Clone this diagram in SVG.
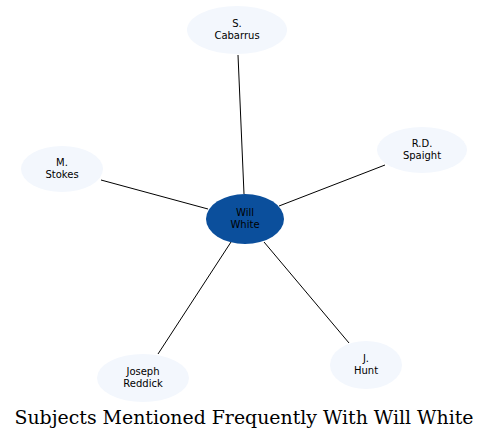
<svg xmlns="http://www.w3.org/2000/svg" width="489" height="439" viewBox="0 0 489 439">
<style>
.n{fill:#f3f7fd;stroke:none}
.c{fill:#0b4f9c;stroke:none}
.t{font-family:"DejaVu Sans",sans-serif;font-size:10px;fill:#000;text-anchor:middle}
.e{stroke:#000;stroke-width:1;fill:none}
.title{font-family:"DejaVu Serif",serif;font-size:18.9px;fill:#000;text-anchor:middle}
</style>
<rect width="489" height="439" fill="#fff"/>
<g id="edges">
<line class="e" x1="244" y1="194" x2="238" y2="55"/>
<line class="e" x1="279" y1="206" x2="385" y2="165"/>
<line class="e" x1="208" y1="209" x2="101" y2="180"/>
<line class="e" x1="231" y1="242" x2="158" y2="354"/>
<line class="e" x1="264" y1="242" x2="349" y2="343"/>
</g>
<g id="cabarrus"><ellipse class="n" cx="237" cy="30" rx="50" ry="24"/><text class="t" x="237" y="27">S.</text><text class="t" x="237" y="39">Cabarrus</text></g>
<g id="spaight"><ellipse class="n" cx="422" cy="150" rx="45" ry="23"/><text class="t" x="422" y="147">R.D.</text><text class="t" x="422" y="159">Spaight</text></g>
<g id="stokes"><ellipse class="n" cx="62" cy="169" rx="41" ry="23"/><text class="t" x="62" y="166">M.</text><text class="t" x="62" y="178">Stokes</text></g>
<g id="willwhite"><ellipse class="c" cx="245" cy="219" rx="39" ry="25"/><text class="t" x="245" y="216">Will</text><text class="t" x="245" y="228">White</text></g>
<g id="reddick"><ellipse class="n" cx="143" cy="378" rx="46" ry="24"/><text class="t" x="143" y="375">Joseph</text><text class="t" x="143" y="387">Reddick</text></g>
<g id="hunt"><ellipse class="n" cx="366" cy="365" rx="36" ry="24"/><text class="t" x="366" y="362">J.</text><text class="t" x="366" y="374">Hunt</text></g>
<text class="title" x="244" y="424">Subjects Mentioned Frequently With Will White</text>
</svg>
